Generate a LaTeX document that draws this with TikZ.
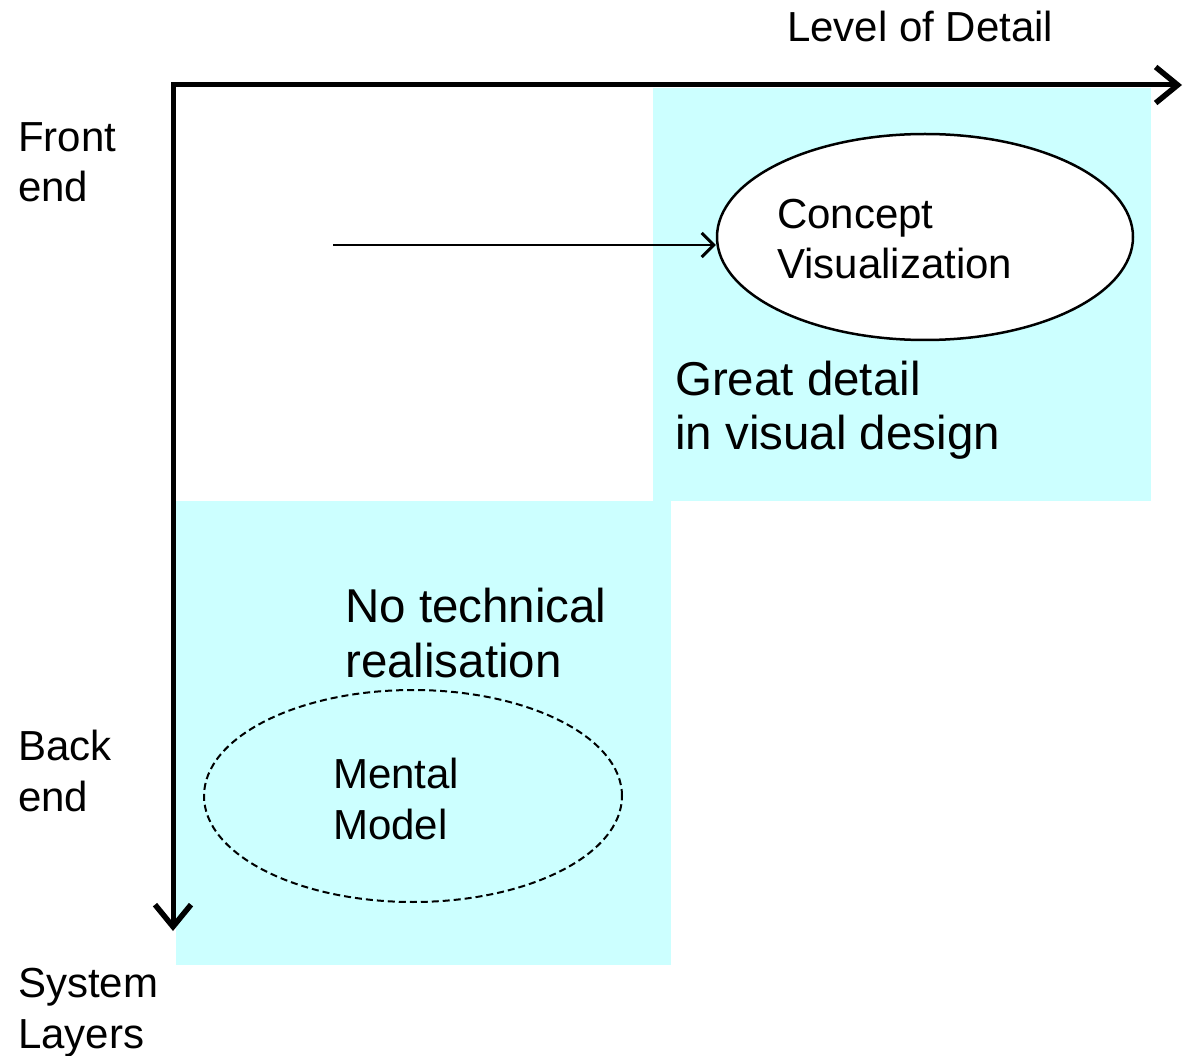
\documentclass[tikz,border=0pt]{standalone}
\usepackage{fontspec}
\setmainfont{Liberation Sans}
\usetikzlibrary{shapes.geometric,arrows.meta}
\definecolor{panel}{HTML}{CCFFFF}
\begin{document}
\begin{tikzpicture}[x=1pt,y=-1pt,
  lbl/.style={anchor=base west,inner sep=0pt,align=left,font=\fontsize{42}{50.5}\selectfont},
  biglbl/.style={anchor=base west,inner sep=0pt,align=left,font=\fontsize{47.5}{54.5}\selectfont},
  axis/.style={line width=5pt,-{Straight Barb[length=22pt,width=36pt,line width=5.5pt]}},
  thinarrow/.style={line width=2.2pt,-{Straight Barb[length=12pt,width=24pt,line width=3pt]}},
  oval/.style={ellipse,inner sep=0pt,line width=2.5pt}]
\useasboundingbox (0,0) rectangle (1187,1056);
% panels
\fill[panel] (653,88) rectangle (1151,501);
\fill[panel] (176,501) rectangle (671,965);
% axes
\coordinate (hend) at (1182,85);
\coordinate (corner) at (173,85);
\coordinate (vend) at (173,931);
\draw[axis] (corner) -- (hend);
\draw[axis,line cap=rect] (corner) -- (vend);
% ellipses
\node[oval,draw,fill=white,minimum width=416pt,minimum height=206pt] (cv) at (925,237) {};
\node[oval,draw,dashed,dash pattern=on 7pt off 4pt,line width=2pt,minimum width=418pt,minimum height=212pt] (mm) at (413,796) {};
% arrow
\coordinate (src) at (333,245);
\draw[thinarrow] (src) -- (src -| cv.west);
% labels
\node[lbl] (lod) at (787,42) {Level of Detail};
\node[lbl] (fe) at (18,202) {Front\\end};
\node[lbl] (be) at (18,811) {Back\\end};
\node[lbl] (sl) at (18,1048) {System\\Layers};
\node[lbl] (cvt) at (777,279) {Concept\\Visualization};
\node[lbl] (mmt) at (333,839) {Mental\\Model};
\node[biglbl] (gd) at (675,450) {Great detail\\in visual design};
\node[biglbl] (nt) at (345,677) {No technical\\realisation};
\end{tikzpicture}
\end{document}
